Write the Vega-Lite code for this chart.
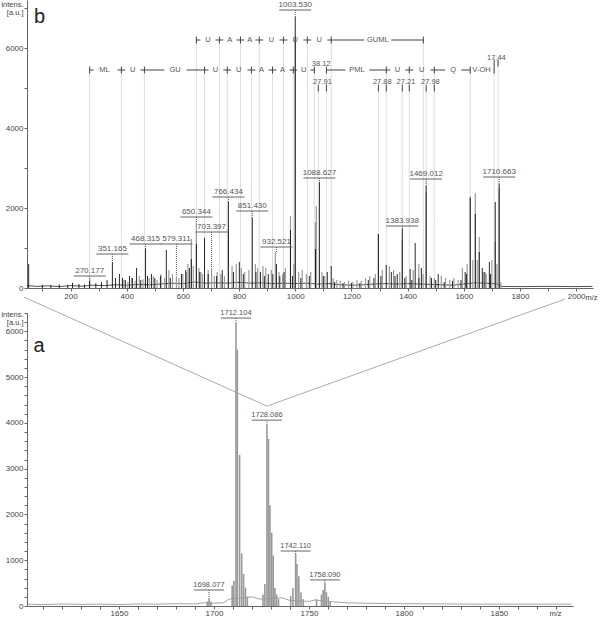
{
  "$schema": "https://vega.github.io/schema/vega-lite/v6.json",
  "padding": 0,
  "bounds": "flush",
  "spacing": 25,
  "config": {
    "view": {"stroke": null},
    "font": "Liberation Sans",
    "axis": {"grid": false, "domainColor": "#666", "tickColor": "#666", "labelColor": "#444", "labelFontSize": 8, "tickSize": 3, "labelPadding": 1, "titleFontSize": 7.5, "titleFontWeight": "normal", "titleColor": "#444", "labelFont": "Liberation Sans", "titleFont": "Liberation Sans", "labelOverlap": false, "labelFlush": false}
  },
  "datasets": {
    "top_g": [{"m":268,"v":225},{"m":390,"v":200},{"m":404,"v":150},{"m":418,"v":250},{"m":430,"v":180},{"m":445,"v":300},{"m":458,"v":220},{"m":480,"v":250},{"m":495,"v":300},{"m":508,"v":200},{"m":522,"v":350},{"m":535,"v":250},{"m":550,"v":450},{"m":563,"v":350},{"m":577,"v":300},{"m":586,"v":250},{"m":600,"v":350},{"m":612,"v":400},{"m":618,"v":600},{"m":630,"v":1225},{"m":637,"v":550},{"m":648,"v":1625},{"m":657,"v":500},{"m":664,"v":400},{"m":670,"v":350},{"m":690,"v":450},{"m":702,"v":500},{"m":712,"v":300},{"m":722,"v":400},{"m":735,"v":350},{"m":748,"v":300},{"m":762,"v":1475},{"m":775,"v":550},{"m":790,"v":600},{"m":808,"v":500},{"m":820,"v":400},{"m":835,"v":450},{"m":858,"v":600},{"m":866,"v":500},{"m":885,"v":550},{"m":895,"v":500},{"m":915,"v":450},{"m":929,"v":900},{"m":942,"v":400},{"m":955,"v":350},{"m":965,"v":500},{"m":983,"v":1800},{"m":995,"v":600},{"m":1000,"v":6300},{"m":1012,"v":400},{"m":1025,"v":450},{"m":1040,"v":350},{"m":1055,"v":400},{"m":1072,"v":1650},{"m":1075,"v":2050},{"m":1095,"v":400},{"m":1105,"v":300},{"m":1135,"v":250},{"m":1148,"v":200},{"m":1160,"v":180},{"m":1175,"v":150},{"m":1190,"v":180},{"m":1205,"v":150},{"m":1220,"v":200},{"m":1235,"v":180},{"m":1250,"v":250},{"m":1265,"v":300},{"m":1285,"v":350},{"m":1296,"v":1350},{"m":1310,"v":450},{"m":1335,"v":550},{"m":1350,"v":450},{"m":1372,"v":400},{"m":1381,"v":1200},{"m":1395,"v":300},{"m":1420,"v":450},{"m":1440,"v":600},{"m":1455,"v":350},{"m":1466,"v":2400},{"m":1480,"v":300},{"m":1495,"v":250},{"m":1520,"v":300},{"m":1535,"v":250},{"m":1550,"v":200},{"m":1565,"v":250},{"m":1580,"v":200},{"m":1595,"v":500},{"m":1612,"v":600},{"m":1623,"v":2300},{"m":1632,"v":700},{"m":1641,"v":2375},{"m":1648,"v":700},{"m":1655,"v":1275},{"m":1670,"v":400},{"m":1680,"v":350},{"m":1700,"v":700},{"m":1712,"v":1150},{"m":1718,"v":600},{"m":1726,"v":2500},{"m":1732,"v":150}],
    "top_k": [{"m":51,"v":600},{"m":100,"v":80},{"m":130,"v":70},{"m":160,"v":90},{"m":190,"v":80},{"m":207,"v":130},{"m":230,"v":100},{"m":250,"v":90},{"m":268,"v":180},{"m":290,"v":120},{"m":310,"v":150},{"m":330,"v":200},{"m":349,"v":650},{"m":360,"v":250},{"m":374,"v":350},{"m":385,"v":250},{"m":395,"v":200},{"m":410,"v":300},{"m":420,"v":250},{"m":435,"v":500},{"m":450,"v":200},{"m":467,"v":975},{"m":474,"v":300},{"m":488,"v":350},{"m":500,"v":250},{"m":520,"v":300},{"m":541,"v":950},{"m":555,"v":250},{"m":595,"v":350},{"m":610,"v":450},{"m":623,"v":500},{"m":630,"v":725},{"m":648,"v":1100},{"m":660,"v":400},{"m":677,"v":1250},{"m":690,"v":350},{"m":720,"v":300},{"m":740,"v":450},{"m":762,"v":2150},{"m":780,"v":400},{"m":801,"v":650},{"m":815,"v":350},{"m":847,"v":1750},{"m":860,"v":400},{"m":876,"v":400},{"m":890,"v":300},{"m":904,"v":350},{"m":920,"v":350},{"m":933,"v":600},{"m":945,"v":300},{"m":960,"v":400},{"m":983,"v":1450},{"m":990,"v":300},{"m":1000,"v":6775},{"m":1020,"v":250},{"m":1050,"v":300},{"m":1072,"v":975},{"m":1086,"v":2650},{"m":1100,"v":300},{"m":1114,"v":400},{"m":1128,"v":550},{"m":1140,"v":150},{"m":1170,"v":120},{"m":1200,"v":130},{"m":1230,"v":120},{"m":1260,"v":200},{"m":1280,"v":250},{"m":1296,"v":1350},{"m":1305,"v":300},{"m":1324,"v":575},{"m":1342,"v":400},{"m":1355,"v":300},{"m":1363,"v":350},{"m":1381,"v":1475},{"m":1390,"v":250},{"m":1409,"v":475},{"m":1415,"v":200},{"m":1427,"v":1125},{"m":1440,"v":250},{"m":1449,"v":500},{"m":1466,"v":2550},{"m":1485,"v":250},{"m":1500,"v":200},{"m":1509,"v":350},{"m":1530,"v":150},{"m":1560,"v":180},{"m":1590,"v":200},{"m":1605,"v":400},{"m":1610,"v":350},{"m":1623,"v":2250},{"m":1641,"v":1850},{"m":1655,"v":900},{"m":1666,"v":500},{"m":1675,"v":400},{"m":1691,"v":650},{"m":1695,"v":350},{"m":1712,"v":2150},{"m":1726,"v":2600}],
    "top_base": [{"m":45,"v":60},{"m":80,"v":40},{"m":120,"v":55},{"m":160,"v":35},{"m":200,"v":60},{"m":240,"v":45},{"m":280,"v":70},{"m":320,"v":60},{"m":360,"v":80},{"m":400,"v":70},{"m":440,"v":90},{"m":480,"v":80},{"m":520,"v":100},{"m":560,"v":120},{"m":600,"v":110},{"m":640,"v":150},{"m":680,"v":120},{"m":720,"v":130},{"m":760,"v":120},{"m":800,"v":140},{"m":840,"v":120},{"m":880,"v":130},{"m":920,"v":110},{"m":960,"v":120},{"m":1000,"v":110},{"m":1040,"v":120},{"m":1080,"v":100},{"m":1120,"v":110},{"m":1160,"v":80},{"m":1200,"v":70},{"m":1240,"v":80},{"m":1280,"v":100},{"m":1320,"v":110},{"m":1360,"v":100},{"m":1400,"v":110},{"m":1440,"v":100},{"m":1480,"v":90},{"m":1520,"v":80},{"m":1560,"v":70},{"m":1600,"v":100},{"m":1640,"v":130},{"m":1680,"v":120},{"m":1720,"v":100},{"m":1735,"v":40},{"m":1800,"v":35},{"m":1900,"v":40},{"m":2000,"v":35},{"m":2058,"v":40}],
    "top_guides": [{"m":648,"v":6200},{"m":730,"v":6200},{"m":805,"v":6200},{"m":872,"v":6200},{"m":958,"v":6200},{"m":1043,"v":6200},{"m":1128,"v":6200},{"m":1456,"v":6200},{"m":268,"v":5450},{"m":381,"v":5450},{"m":463,"v":5450},{"m":677,"v":5450},{"m":758,"v":5450},{"m":844,"v":5450},{"m":919,"v":5450},{"m":993,"v":5450},{"m":1068,"v":5450},{"m":1111,"v":5450},{"m":1324,"v":5450},{"m":1406,"v":5450},{"m":1495,"v":5450},{"m":1623,"v":5450},{"m":1708,"v":5625},{"m":1082,"v":5000},{"m":1296,"v":5000},{"m":1381,"v":5000},{"m":1466,"v":5000},{"m":1722,"v":5625}],
    "seg": [{"m":648,"m2":662,"v":6200},{"m":716,"m2":744,"v":6200},{"m":791,"m2":819,"v":6200},{"m":858,"m2":886,"v":6200},{"m":944,"m2":972,"v":6200},{"m":1029,"m2":1057,"v":6200},{"m":1114,"m2":1245,"v":6200},{"m":1342,"m2":1456,"v":6200},{"m":268,"m2":282,"v":5450},{"m":367,"m2":395,"v":5450},{"m":449,"m2":534,"v":5450},{"m":613,"m2":691,"v":5450},{"m":744,"m2":772,"v":5450},{"m":830,"m2":858,"v":5450},{"m":905,"m2":933,"v":5450},{"m":979,"m2":1007,"v":5450},{"m":1054,"m2":1068,"v":5450},{"m":1111,"m2":1178,"v":5450},{"m":1264,"m2":1338,"v":5450},{"m":1392,"m2":1420,"v":5450},{"m":1481,"m2":1534,"v":5450},{"m":1591,"m2":1623,"v":5450}],
    "seq_ticks": [{"m":648,"v":6200},{"m":730,"v":6200},{"m":805,"v":6200},{"m":872,"v":6200},{"m":958,"v":6200},{"m":1043,"v":6200},{"m":1128,"v":6200},{"m":1456,"v":6200},{"m":268,"v":5450},{"m":381,"v":5450},{"m":463,"v":5450},{"m":677,"v":5450},{"m":758,"v":5450},{"m":844,"v":5450},{"m":919,"v":5450},{"m":993,"v":5450},{"m":1068,"v":5450},{"m":1111,"v":5450},{"m":1324,"v":5450},{"m":1406,"v":5450},{"m":1495,"v":5450},{"m":1623,"v":5450},{"m":1708,"v":5450},{"m":1082,"v":5000},{"m":1111,"v":5000},{"m":1296,"v":5000},{"m":1324,"v":5000},{"m":1381,"v":5000},{"m":1406,"v":5000},{"m":1466,"v":5000},{"m":1495,"v":5000},{"m":1708,"v":5625},{"m":1722,"v":5625}],
    "seq_text": [{"m":689,"v":6200,"t":"U"},{"m":767,"v":6200,"t":"A"},{"m":838,"v":6200,"t":"A"},{"m":915,"v":6200,"t":"U"},{"m":1000,"v":6200,"t":"U"},{"m":1085,"v":6200,"t":"U"},{"m":1294,"v":6200,"t":"GUML"},{"m":321,"v":5450,"t":"ML"},{"m":421,"v":5450,"t":"U"},{"m":572,"v":5450,"t":"GU"},{"m":716,"v":5450,"t":"U"},{"m":799,"v":5450,"t":"U"},{"m":880,"v":5450,"t":"A"},{"m":955,"v":5450,"t":"A"},{"m":1030,"v":5450,"t":"U"},{"m":1220,"v":5450,"t":"PML"},{"m":1364,"v":5450,"t":"U"},{"m":1450,"v":5450,"t":"U"},{"m":1562,"v":5450,"t":"Q"},{"m":1663,"v":5450,"t":"V-OH"},{"m":1092,"v":5590,"t":"38.12"},{"m":1097,"v":5160,"t":"27.91"},{"m":1310,"v":5160,"t":"27.88"},{"m":1394,"v":5160,"t":"27.21"},{"m":1481,"v":5160,"t":"27.98"},{"m":1716,"v":5760,"t":"17.44"}],
    "top_lab": [{"m":268,"v":300,"p":225,"t":"270.177"},{"m":349,"v":850,"p":650,"t":"351.165"},{"m":467,"v":1100,"p":975,"t":"468.315"},{"m":577,"v":1100,"p":300,"t":"579.311"},{"m":648,"v":1775,"p":1625,"t":"650.344"},{"m":702,"v":1400,"p":500,"t":"703.397"},{"m":762,"v":2275,"p":2150,"t":"766.434"},{"m":847,"v":1925,"p":1750,"t":"851.430"},{"m":933,"v":1025,"p":900,"t":"932.521"},{"m":1000,"v":6950,"p":6775,"t":"1003.530"},{"m":1086,"v":2750,"p":2650,"t":"1088.627"},{"m":1381,"v":1550,"p":1475,"t":"1383.938"},{"m":1466,"v":2725,"p":2550,"t":"1469.012"},{"m":1726,"v":2775,"p":2600,"t":"1710.663"}],
    "top_tag": [{"m":90,"v":6775,"t":"b"}],
    "bot_pk": [{"m":1696.5,"v":100},{"m":1697.4,"v":175},{"m":1698.4,"v":100},{"m":1709.6,"v":450},{"m":1710.5,"v":550},{"m":1711.6,"v":6200},{"m":1712.3,"v":5600},{"m":1713.5,"v":3300},{"m":1714.6,"v":1150},{"m":1715.6,"v":700},{"m":1716.6,"v":400},{"m":1717.6,"v":200},{"m":1725.8,"v":250},{"m":1726.8,"v":480},{"m":1727.9,"v":3950},{"m":1728.7,"v":3650},{"m":1729.5,"v":2200},{"m":1730.4,"v":1600},{"m":1731.2,"v":1100},{"m":1732.1,"v":400},{"m":1733,"v":250},{"m":1734,"v":150},{"m":1740.4,"v":220},{"m":1741.6,"v":400},{"m":1743.0,"v":1135},{"m":1743.7,"v":920},{"m":1744.7,"v":650},{"m":1745.8,"v":300},{"m":1747,"v":150},{"m":1754,"v":150},{"m":1756.6,"v":250},{"m":1757.5,"v":350},{"m":1758.4,"v":520},{"m":1759.2,"v":300},{"m":1760.2,"v":200},{"m":1761.2,"v":100}],
    "bot_base": [{"m":1602,"v":40},{"m":1610,"v":30},{"m":1620,"v":45},{"m":1630,"v":35},{"m":1640,"v":40},{"m":1650,"v":30},{"m":1660,"v":45},{"m":1670,"v":40},{"m":1680,"v":50},{"m":1690,"v":45},{"m":1695,"v":70},{"m":1700,"v":60},{"m":1705,"v":70},{"m":1708,"v":150},{"m":1720,"v":200},{"m":1724,"v":150},{"m":1736,"v":180},{"m":1740,"v":120},{"m":1750,"v":100},{"m":1753,"v":130},{"m":1763,"v":90},{"m":1770,"v":70},{"m":1780,"v":60},{"m":1790,"v":55},{"m":1800,"v":50},{"m":1820,"v":45},{"m":1840,"v":40},{"m":1860,"v":40},{"m":1888,"v":40}],
    "bot_lab": [{"m":1697.4,"v":350,"p":175,"t":"1698.077"},{"m":1711.6,"v":6290,"p":6200,"t":"1712.104"},{"m":1727.9,"v":4060,"p":3950,"t":"1728.086"},{"m":1743.0,"v":1200,"p":1135,"t":"1742.110"},{"m":1758.4,"v":570,"p":520,"t":"1758.090"}],
    "bot_tag": [{"m":1608,"v":5677,"t":"a"}],
    "zoom": [{"m":1600,"v":6747},{"m":1727.9,"v":4367},{"m":1884.7,"v":6703}]
  },
  "vconcat": [
    {
      "width": 566,
      "height": 288,
      "encoding": {
        "x": {"field": "m", "type": "quantitative", "scale": {"domain": [45, 2060], "nice": false, "zero": false},
              "axis": {"title": "m/z", "titleX": 564, "titleY": 11, "titleAlign": "center", "titleBaseline": "alphabetic", "titleAnchor": null, "format": "d",
                       "values": [100,200,300,400,500,600,700,800,900,1000,1100,1200,1300,1400,1500,1600,1700,1800,1900,2000],
                       "labelExpr": "datum.value % 200 === 0 ? datum.label : ''"}},
        "y": {"field": "v", "type": "quantitative", "scale": {"domain": [0, 7200], "nice": false},
              "axis": {"title": ["intens.", "[a.u.]"], "titleAngle": 0, "titleAlign": "right", "titleBaseline": "top", "titleX": -4, "titleY": 0, "titleLineHeight": 8, "titleAnchor": null, "format": "d",
                       "values": [0,1000,2000,3000,4000,5000,6000,7000],
                       "labelExpr": "datum.value % 2000 === 0 ? datum.label : ''"}}
      },
      "layer": [
        {"data": {"name": "top_guides"}, "mark": {"type": "rule", "color": "#dedede", "strokeWidth": 1}, "encoding": {"y2": {"datum": 0}}},
        {"data": {"name": "top_base"}, "mark": {"type": "line", "color": "#222", "strokeWidth": 0.8}, "encoding": {}},
        {"data": {"name": "top_g"}, "mark": {"type": "rule", "color": "#9a9a9a", "strokeWidth": 1.2}, "encoding": {"y2": {"datum": 0}}},
        {"data": {"name": "top_k"}, "mark": {"type": "rule", "color": "#111", "strokeWidth": 0.9}, "encoding": {"y2": {"datum": 0}}},
        {"data": {"name": "seg"}, "mark": {"type": "rule", "color": "#444", "strokeWidth": 1}, "encoding": {"x2": {"field": "m2"}}},
        {"data": {"name": "seq_ticks"}, "mark": {"type": "tick", "orient": "vertical", "size": 7, "thickness": 1, "color": "#444", "opacity": 1}, "encoding": {}},
        {"data": {"name": "seq_text"}, "mark": {"type": "text", "fontSize": 7.5, "color": "#555", "baseline": "middle"}, "encoding": {"text": {"field": "t"}}},
        {"data": {"name": "top_lab"}, "layer": [
          {"mark": {"type": "rule", "color": "#555", "strokeWidth": 1, "strokeDash": [1, 1]}, "encoding": {"y2": {"field": "p"}}},
          {"mark": {"type": "tick", "orient": "horizontal", "size": 32, "thickness": 1, "color": "#666", "opacity": 1}, "encoding": {}},
          {"mark": {"type": "text", "fontSize": 8, "color": "#555", "baseline": "bottom", "dy": -1}, "encoding": {"text": {"field": "t"}}}
        ]},
        {"data": {"name": "top_tag"}, "mark": {"type": "text", "fontSize": 20, "color": "#222", "baseline": "middle"}, "encoding": {"text": {"field": "t"}}}
      ]
    },
    {
      "width": 546,
      "height": 293,
      "encoding": {
        "x": {"field": "m", "type": "quantitative", "scale": {"domain": [1601.6, 1889], "nice": false, "zero": false},
              "axis": {"title": "m/z", "titleX": 528, "titleY": 9, "titleAlign": "center", "titleBaseline": "alphabetic", "titleAnchor": null, "format": "d", "labelPadding": 0,
                       "values": [1610,1620,1630,1640,1650,1660,1670,1680,1690,1700,1710,1720,1730,1740,1750,1760,1770,1780,1790,1800,1810,1820,1830,1840,1850,1860,1870,1880],
                       "labelExpr": "datum.value % 50 === 0 ? datum.label : ''"}},
        "y": {"field": "v", "type": "quantitative", "scale": {"domain": [0, 6400], "nice": false},
              "axis": {"title": ["intens.", "[a.u.]"], "titleAngle": 0, "titleAlign": "right", "titleBaseline": "top", "titleX": -4, "titleY": -3, "titleLineHeight": 8, "titleAnchor": null, "format": "d",
                       "values": [0,200,400,600,800,1000,1200,1400,1600,1800,2000,2200,2400,2600,2800,3000,3200,3400,3600,3800,4000,4200,4400,4600,4800,5000,5200,5400,5600,5800,6000,6200,6400],
                       "labelExpr": "datum.value % 1000 === 0 ? datum.label : ''"}}
      },
      "layer": [
        {"data": {"name": "zoom"}, "mark": {"type": "line", "color": "#ababab", "strokeWidth": 1}, "encoding": {}},
        {"data": {"name": "bot_base"}, "mark": {"type": "line", "color": "#8c8c8c", "strokeWidth": 0.8}, "encoding": {}},
        {"data": {"name": "bot_pk"}, "mark": {"type": "rule", "color": "#999", "strokeWidth": 1.6}, "encoding": {"y2": {"datum": 0}}},
        {"data": {"name": "bot_lab"}, "layer": [
          {"mark": {"type": "rule", "color": "#555", "strokeWidth": 1, "strokeDash": [1, 1]}, "encoding": {"y2": {"field": "p"}}},
          {"mark": {"type": "tick", "orient": "horizontal", "size": 30, "thickness": 1, "color": "#666", "opacity": 1}, "encoding": {}},
          {"mark": {"type": "text", "fontSize": 7.5, "color": "#555", "baseline": "bottom", "dy": -1}, "encoding": {"text": {"field": "t"}}}
        ]},
        {"data": {"name": "bot_tag"}, "mark": {"type": "text", "fontSize": 20, "color": "#222", "baseline": "middle"}, "encoding": {"text": {"field": "t"}}}
      ]
    }
  ]
}
